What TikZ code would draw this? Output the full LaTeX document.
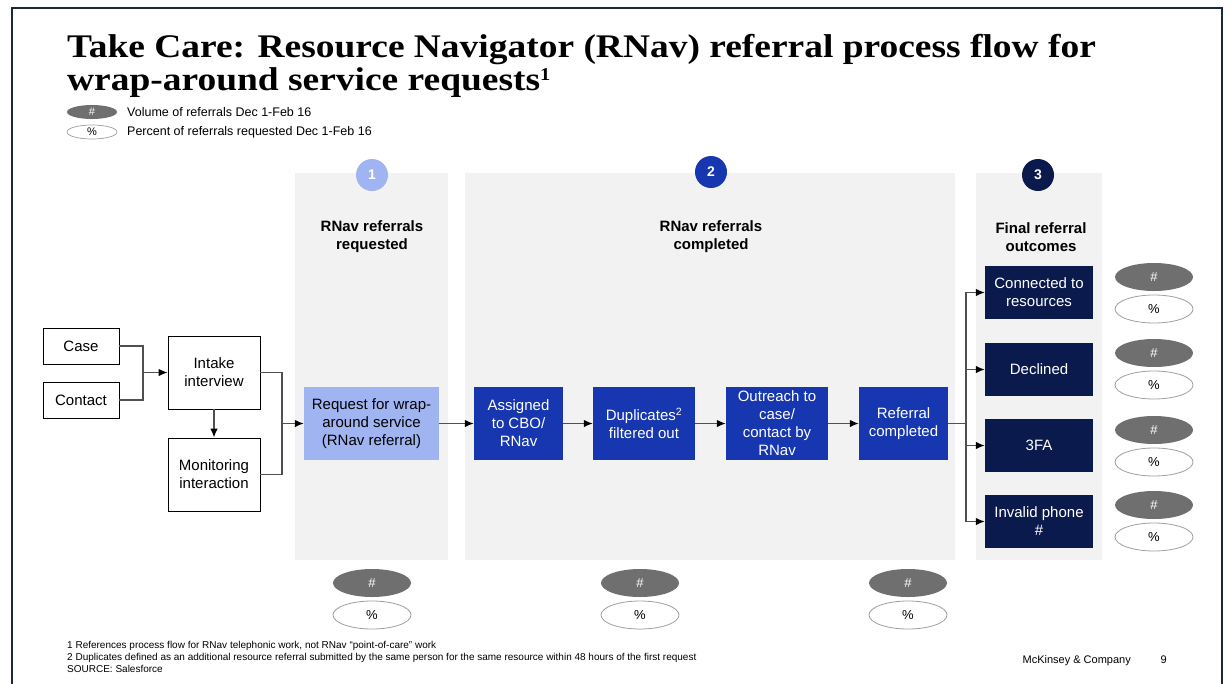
\documentclass[tikz,border=0pt]{standalone}
\usepackage{fontspec}
\setmainfont{Liberation Sans}
\newfontfamily\titlefont[FakeStretch=1.135]{Liberation Serif}
\usetikzlibrary{arrows.meta,shapes.geometric}

\definecolor{frameC}{HTML}{17293B}
\definecolor{panelC}{HTML}{F2F2F2}
\definecolor{lightB}{HTML}{A0B4F2}
\definecolor{midB}{HTML}{1737B0}
\definecolor{navyB}{HTML}{0B1A4D}
\definecolor{pillC}{HTML}{6F6F6F}
\definecolor{lineC}{HTML}{505050}

\tikzset{
  wbox/.style={draw=black, line width=0.9pt, fill=white, inner sep=0pt,
    align=center, font=\fontsize{15}{18}\selectfont},
  bluebox/.style={inner sep=0pt, align=center, text=white,
    font=\fontsize{15}{18}\selectfont},
  panel/.style={fill=panelC, draw=none},
  numdot/.style={circle, minimum size=32pt, inner sep=0pt, text=white,
    font=\bfseries\fontsize{14}{14}\selectfont},
  head/.style={align=center, font=\bfseries\fontsize{15}{18}\selectfont},
  pillfull/.style={ellipse, fill=pillC, minimum width=78pt, minimum height=28pt,
    inner sep=0pt, text=white, font=\fontsize{13}{13}\selectfont},
  pillopen/.style={ellipse, draw=gray!75, fill=white, line width=0.8pt,
    minimum width=78pt, minimum height=28pt, inner sep=0pt,
    font=\fontsize{13}{13}\selectfont},
  conn/.style={draw=lineC, line width=1.3pt},
  arr/.style={conn, -{Latex[length=9pt,width=7.5pt,color=black]}},
  note/.style={anchor=base west, inner sep=0pt, font=\fontsize{10}{10}\selectfont}
}

\begin{document}
\begin{tikzpicture}[x=1pt,y=-1pt]
\useasboundingbox (0,0) rectangle (1231,683);

% outer frame (open at the bottom)
\draw[frameC, line width=2pt] (11.5,690) -- (11.5,7.5) -- (1222,7.5) -- (1222,690);

% title
\node[anchor=base west, inner sep=0pt] (t1) at (67,57)
  {\titlefont\bfseries\fontsize{33}{34}\selectfont Take Care: Resource Navigator (RNav) referral process flow for};
\node[anchor=base west, inner sep=0pt] (t2) at (67,90)
  {\titlefont\bfseries\fontsize{33}{34}\selectfont wrap-around service requests\raisebox{10pt}{\fontsize{18}{18}\selectfont 1}};

% legend
\node[ellipse, fill=pillC, minimum width=50pt, minimum height=14pt, inner sep=0pt,
  text=white, font=\fontsize{11}{11}\selectfont] (lg1) at (92,112) {\#};
\node[anchor=west, inner sep=0pt, font=\fontsize{12.5}{12.5}\selectfont] (lt1) at (127,112)
  {Volume of referrals Dec 1-Feb 16};
\node[ellipse, draw=gray!75, fill=white, line width=0.7pt, minimum width=50pt,
  minimum height=14pt, inner sep=0pt, font=\fontsize{11}{11}\selectfont] (lg2) at (92,132) {\%};
\node[anchor=west, inner sep=0pt, font=\fontsize{12.5}{12.5}\selectfont] (lt2) at (127,132)
  {Percent of referrals requested Dec 1-Feb 16};

% stage panels
\fill[panel] (295,173) rectangle (448,560);
\fill[panel] (465,173) rectangle (955,560);
\fill[panel] (976,173) rectangle (1102,560);

\node[numdot, fill=lightB] (n1) at (372,175) {1};
\node[numdot, fill=midB]   (n2) at (711,172) {2};
\node[numdot, fill=navyB]  (n3) at (1038,175) {3};

\node[head] (h1) at (372,237) {RNav referrals\\requested};
\node[head] (h2) at (711,237) {RNav referrals\\completed};
\node[head] (h3) at (1041,237) {Final referral\\outcomes};

% intake boxes
\node[wbox, minimum width=76pt, minimum height=36pt] (case) at (81,346) {Case};
\node[wbox, minimum width=76pt, minimum height=36pt] (contact) at (81,400) {Contact};
\node[wbox, minimum width=92pt, minimum height=73pt] (intake) at (214,372.5) {Intake\\interview};
\node[wbox, minimum width=92pt, minimum height=73pt] (monitor) at (214,474.5) {Monitoring\\interaction};

% referral chain
\node[bluebox, fill=lightB, text=black, minimum width=135pt, minimum height=73pt] (req) at (371.5,423.5)
  {Request for wrap-\\around service\\(RNav referral)};
\node[bluebox, fill=midB, minimum width=89pt, minimum height=73pt] (asg) at (518.5,423.5)
  {Assigned\\to CBO/\\RNav};
\node[bluebox, fill=midB, minimum width=102pt, minimum height=73pt] (dup) at (644,423.5)
  {Duplicates\textsuperscript{2}\\filtered out};
\node[bluebox, fill=midB, minimum width=102pt, minimum height=73pt] (out) at (777,423.5)
  {Outreach to\\case/\\contact by\\RNav};
\node[bluebox, fill=midB, minimum width=89pt, minimum height=73pt] (rc) at (903.5,423.5)
  {Referral\\completed};

% outcomes
\node[bluebox, fill=navyB, minimum width=108pt, minimum height=53pt] (o1) at (1039,292.5) {Connected to\\resources};
\node[bluebox, fill=navyB, minimum width=108pt, minimum height=53pt] (o2) at (1039,369.5) {Declined};
\node[bluebox, fill=navyB, minimum width=108pt, minimum height=53pt] (o3) at (1039,445.5) {3FA};
\node[bluebox, fill=navyB, minimum width=108pt, minimum height=53pt] (o4) at (1039,521.5) {Invalid phone\\\#};

% volume / percent pills
\node[pillfull] (v1) at (1154,277) {\#};
\node[pillopen] (p1) at (1154,309) {\%};
\node[pillfull] (v2) at (1154,353) {\#};
\node[pillopen] (p2) at (1154,385) {\%};
\node[pillfull] (v3) at (1154,430) {\#};
\node[pillopen] (p3) at (1154,462) {\%};
\node[pillfull] (v4) at (1154,505) {\#};
\node[pillopen] (p4) at (1154,537) {\%};

\node[pillfull] (vb1) at (372,583) {\#};
\node[pillopen] (pb1) at (372,615) {\%};
\node[pillfull] (vb2) at (640,583) {\#};
\node[pillopen] (pb2) at (640,615) {\%};
\node[pillfull] (vb3) at (908,583) {\#};
\node[pillopen] (pb3) at (908,615) {\%};

% connectors
\coordinate (j1) at (143,372.5);
\coordinate (j2) at (282,423.5);
\coordinate (j3) at (966,423.5);
\draw[conn] (case.east) -| (j1);
\draw[conn] (contact.east) -| (j1);
\draw[arr] (j1) -- (intake.west);
\draw[arr] (intake.south) -- (monitor.north);
\draw[conn] (intake.east) -| (j2);
\draw[conn] (monitor.east) -| (j2);
\draw[arr] (j2) -- (req.west);
\draw[arr] (req.east) -- (asg.west);
\draw[arr] (asg.east) -- (dup.west);
\draw[arr] (dup.east) -- (out.west);
\draw[arr] (out.east) -- (rc.west);
\draw[conn] (rc.east) -- (j3);
\foreach \o in {o1,o2,o3,o4} \draw[arr] (j3) |- (\o.west);

% footnotes
\node[note] (f1) at (67,648) {1 References process flow for RNav telephonic work, not RNav ``point-of-care'' work};
\node[note] (f2) at (67,660) {2 Duplicates defined as an additional resource referral submitted by the same person for the same resource within 48 hours of the first request};
\node[note] (f3) at (67,672) {SOURCE: Salesforce};
\node[anchor=base east, inner sep=0pt, font=\fontsize{11}{11}\selectfont] (mck) at (1131,663) {McKinsey \& Company};
\node[anchor=base east, inner sep=0pt, font=\fontsize{11}{11}\selectfont] (pg) at (1167,663) {9};
\end{tikzpicture}
\end{document}
